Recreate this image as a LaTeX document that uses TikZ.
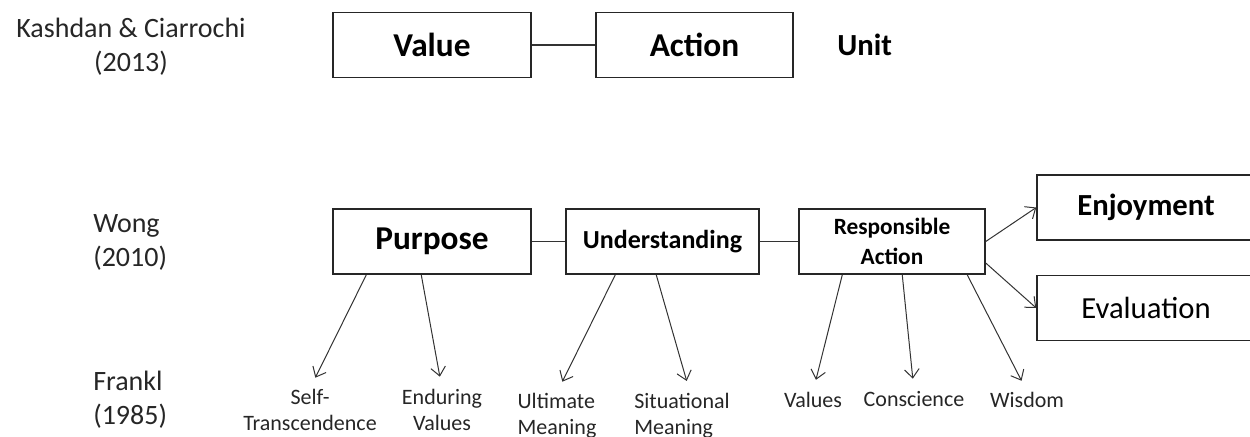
\documentclass[tikz,border=0pt]{standalone}
\usepackage{fontspec}
\setmainfont{Carlito}
\usetikzlibrary{arrows.meta, calc}

\begin{document}
\begin{tikzpicture}[x=0.75pt, y=-0.75pt,
    box/.style={draw=black!85, line width=1.1pt, rectangle, inner sep=0pt, minimum height=49pt},
    link/.style={draw=black!80, line width=0.8pt},
    arr/.style={draw=black!80, line width=0.75pt, -{Straight Barb[length=6.5pt, width=11pt]}, shorten >=9pt},
    lab/.style={text=black!85, font=\fontsize{16.5}{19.5}\selectfont, inner sep=0pt, align=center, anchor=base},
    side/.style={text=black!85, font=\fontsize{21}{25}\selectfont, inner sep=0pt}]
    \useasboundingbox (0,0) rectangle (1250,436);
    \clip (0,0) rectangle (1250,436);

    % Kashdan & Ciarrochi
    \node[box, minimum width=148.5pt, font=\bfseries\fontsize{25}{30}\selectfont] (value) at (432,45) {Value};
    \node[box, minimum width=147.75pt, font=\bfseries\fontsize{25}{30}\selectfont] (action) at (694.5,45) {Action};
    \node[font=\bfseries\fontsize{23}{28}\selectfont, anchor=west, inner sep=0pt] (unit) at (837,45) {Unit};
    \draw[link] (value) -- (action);

    % Wong
    \node[box, minimum width=148.5pt, font=\bfseries\fontsize{25}{30}\selectfont] (purpose) at (432,241.5) {Purpose};
    \node[box, minimum width=144.75pt, font=\bfseries\fontsize{19.5}{24}\selectfont] (understanding) at (662.5,241.5) {Understanding};
    \node[box, minimum width=139.5pt, align=center, font=\bfseries\fontsize{17.5}{22.5}\selectfont] (respaction) at (892,241.5) {Responsible\\Action};
    \node[box, minimum width=163.5pt, font=\bfseries\fontsize{23}{28}\selectfont] (enjoyment) at (1146,207.5) {Enjoyment};
    \node[box, minimum width=163.5pt, font=\fontsize{23}{28}\selectfont] (evaluation) at (1146,308) {Evaluation};
    \draw[link] (purpose) -- (understanding);
    \draw[link] (understanding) -- (respaction);
    \draw[arr, shorten >=0pt] (respaction.east) -- (enjoyment.west);
    \draw[arr, shorten >=0pt] ($(respaction.east)+(0,21.5)$) -- (evaluation.west);

    % Frankl
    \node[lab] (selftrans) at (310,430) {Self-\\Transcendence};
    \node[lab] (enduring) at (442,430) {Enduring\\Values};
    \node[lab, align=left] (ultimate) at (557,434) {Ultimate\\Meaning};
    \node[lab, align=left] (situational) at (682,434) {Situational\\Meaning};
    \node[lab] (values) at (813,407) {Values};
    \node[lab] (conscience) at (914,406) {Conscience};
    \node[lab] (wisdom) at (1027,407) {Wisdom};
    \draw[arr] ($(purpose.south west)+(34,0)$) -- (selftrans.north);
    \draw[arr] ($(purpose.south west)+(89,0)$) -- (enduring.north);
    \draw[arr] ($(understanding.south west)+(50,0)$) -- (ultimate.north);
    \draw[arr] ($(understanding.south west)+(91,0)$) -- ([xshift=6pt]situational.north);
    \draw[arr] ($(respaction.south west)+(44,0)$) -- (values.north);
    \draw[arr] ($(respaction.south west)+(104,0)$) -- (conscience.north);
    \draw[arr] ($(respaction.south west)+(169,0)$) -- (wisdom.north);

    % Authors
    \node[side, align=center, anchor=base] (kashdan) at (131,71) {Kashdan \& Ciarrochi\\(2013)};
    \node[side, align=left, anchor=base west] (wong) at (93,266) {Wong\\(2010)};
    \node[side, align=left, anchor=base west] (frankl) at (93,424) {Frankl\\(1985)};
\end{tikzpicture}
\end{document}
